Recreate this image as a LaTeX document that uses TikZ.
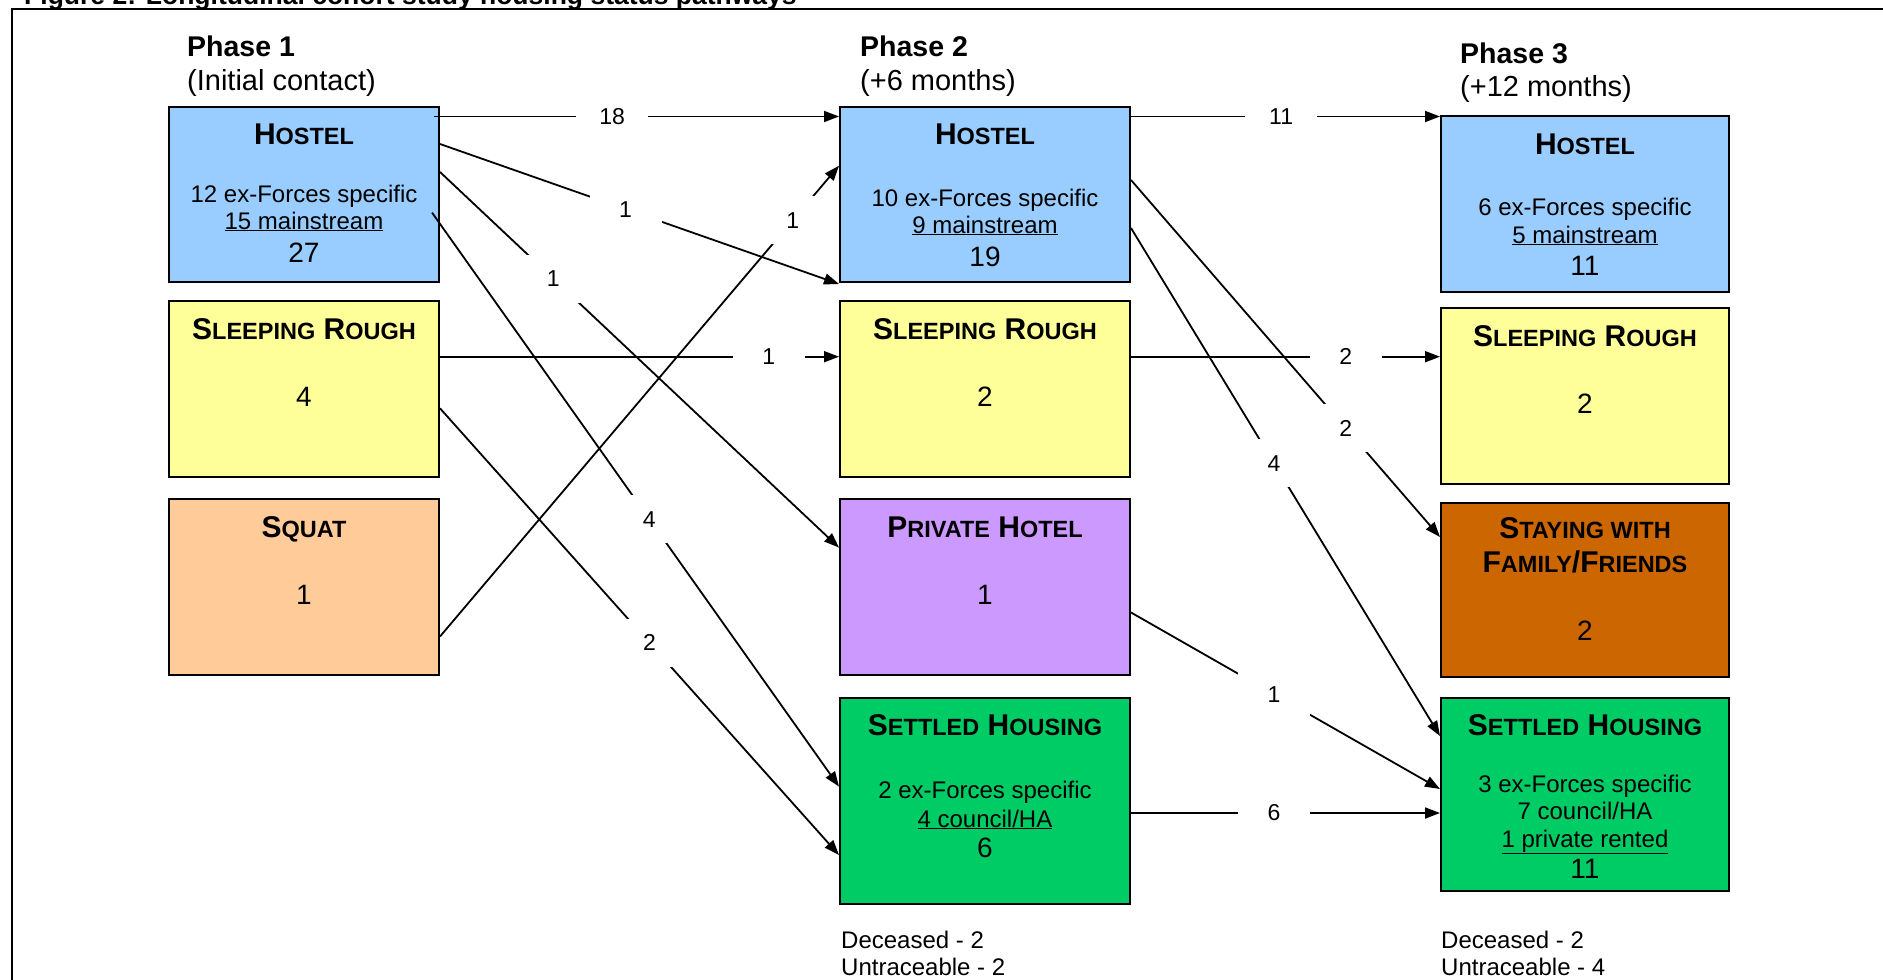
\documentclass[tikz,border=0pt]{standalone}
\usepackage{fontspec}
\setmainfont{Liberation Sans}
\usetikzlibrary{arrows.meta,calc}
\definecolor{cblue}{HTML}{99CCFF}
\definecolor{cyellow}{HTML}{FFFF99}
\definecolor{cpeach}{HTML}{FFCC99}
\definecolor{cpurple}{HTML}{CC99FF}
\definecolor{cgreen}{HTML}{00CC66}
\definecolor{corange}{HTML}{CC6600}
\newcommand\sm[1]{{\fontsize{23.5}{25}\selectfont #1}}
\tikzset{
  box/.style={draw=black, line width=2pt, anchor=north west, inner sep=0pt},
  ttl/.style={anchor=base, inner sep=0pt, font=\fontsize{30}{31}\selectfont\bfseries},
  bod/.style={anchor=base, inner sep=0pt, font=\fontsize{24}{25}\selectfont},
  num/.style={anchor=base, inner sep=0pt, font=\fontsize{28}{29}\selectfont},
  phase/.style={anchor=base west, inner sep=0pt, font=\fontsize{28.5}{30}\selectfont\bfseries},
  phsub/.style={anchor=base west, inner sep=0pt, font=\fontsize{29}{30}\selectfont},
  note/.style={anchor=base west, inner sep=0pt, font=\fontsize{24}{25}\selectfont},
  lbl/.style={fill=white, inner sep=0pt, minimum width=72pt, minimum height=48pt, font=\fontsize{23}{24}\selectfont},
  arr/.style={line width=1.8pt, -{Triangle[length=15pt,width=11pt]}},
}
\begin{document}
\begin{tikzpicture}[x=1pt,y=-1pt]
\useasboundingbox (0,0) rectangle (1883,980);
% frame and cut title
\draw[line width=2.2pt] (12,1000) -- (12,9) -- (1900,9);
\node[anchor=base west, inner sep=0pt, font=\fontsize{26.5}{28}\selectfont\bfseries] (title) at (24,4) {Figure 2: Longitudinal cohort study housing status pathways};
% phase headings
\node[phase] (ph1) at (187,56) {Phase 1};
\node[phsub] (ph1s) at (187,90) {(Initial contact)};
\node[phase] (ph2) at (860,56) {Phase 2};
\node[phsub] (ph2s) at (860,90) {(+6 months)};
\node[phase] (ph3) at (1460,63) {Phase 3};
\node[phsub] (ph3s) at (1460,96) {(+12 months)};
% phase 1 boxes
\node[box, fill=cblue, minimum width=270pt, minimum height=175pt] (p1h) at (168,106) {};
\node[box, fill=cyellow, minimum width=270pt, minimum height=176pt] (p1sr) at (168,300) {};
\node[box, fill=cpeach, minimum width=270pt, minimum height=176pt] (p1sq) at (168,498) {};
% phase 2 boxes
\node[box, fill=cblue, minimum width=290pt, minimum height=175pt] (p2h) at (839,106) {};
\node[box, fill=cyellow, minimum width=290pt, minimum height=176pt] (p2sr) at (839,300) {};
\node[box, fill=cpurple, minimum width=290pt, minimum height=176pt] (p2ph) at (839,498) {};
\node[box, fill=cgreen, minimum width=290pt, minimum height=206pt] (p2s) at (839,697) {};
% phase 3 boxes
\node[box, fill=cblue, minimum width=288pt, minimum height=176pt] (p3h) at (1440,115) {};
\node[box, fill=cyellow, minimum width=288pt, minimum height=176pt] (p3sr) at (1440,307) {};
\node[box, fill=corange, minimum width=288pt, minimum height=174pt] (p3st) at (1440,502) {};
\node[box, fill=cgreen, minimum width=288pt, minimum height=193pt] (p3s) at (1440,697) {};
% phase 1 texts
\node[ttl] (p1h-t) at ($(p1h.north)+(0,38)$) {H\sm{OSTEL}};
\node[bod] (p1h-a) at ($(p1h.north)+(0,96)$) {12 ex-Forces specific};
\node[bod] (p1h-b) at ($(p1h.north)+(0,123)$) {\underline{15 mainstream}};
\node[num] (p1h-n) at ($(p1h.north)+(0,156)$) {27};
\node[ttl] (p1sr-t) at ($(p1sr.north)+(0,39)$) {S\sm{LEEPING} R\sm{OUGH}};
\node[num] (p1sr-n) at ($(p1sr.north)+(0,106)$) {4};
\node[ttl] (p1sq-t) at ($(p1sq.north)+(0,39)$) {S\sm{QUAT}};
\node[num] (p1sq-n) at ($(p1sq.north)+(0,106)$) {1};
% phase 2 texts
\node[ttl] (p2h-t) at ($(p2h.north)+(0,38)$) {H\sm{OSTEL}};
\node[bod] (p2h-a) at ($(p2h.north)+(0,100)$) {10 ex-Forces specific};
\node[bod] (p2h-b) at ($(p2h.north)+(0,127)$) {\underline{9 mainstream}};
\node[num] (p2h-n) at ($(p2h.north)+(0,160)$) {19};
\node[ttl] (p2sr-t) at ($(p2sr.north)+(0,39)$) {S\sm{LEEPING} R\sm{OUGH}};
\node[num] (p2sr-n) at ($(p2sr.north)+(0,106)$) {2};
\node[ttl] (p2ph-t) at ($(p2ph.north)+(0,39)$) {P\sm{RIVATE} H\sm{OTEL}};
\node[num] (p2ph-n) at ($(p2ph.north)+(0,106)$) {1};
\node[ttl] (p2s-t) at ($(p2s.north)+(0,38)$) {S\sm{ETTLED} H\sm{OUSING}};
\node[bod] (p2s-a) at ($(p2s.north)+(0,101)$) {2 ex-Forces specific};
\node[bod] (p2s-b) at ($(p2s.north)+(0,130)$) {\underline{4 council/HA}};
\node[num] (p2s-n) at ($(p2s.north)+(0,160)$) {6};
% phase 3 texts
\node[ttl] (p3h-t) at ($(p3h.north)+(0,39)$) {H\sm{OSTEL}};
\node[bod] (p3h-a) at ($(p3h.north)+(0,100)$) {6 ex-Forces specific};
\node[bod] (p3h-b) at ($(p3h.north)+(0,128)$) {\underline{5 mainstream}};
\node[num] (p3h-n) at ($(p3h.north)+(0,160)$) {11};
\node[ttl] (p3sr-t) at ($(p3sr.north)+(0,39)$) {S\sm{LEEPING} R\sm{OUGH}};
\node[num] (p3sr-n) at ($(p3sr.north)+(0,106)$) {2};
\node[ttl] (p3st-t) at ($(p3st.north)+(0,36)$) {S\sm{TAYING WITH}};
\node[ttl] (p3st-u) at ($(p3st.north)+(0,70)$) {F\sm{AMILY}/F\sm{RIENDS}};
\node[num] (p3st-n) at ($(p3st.north)+(0,138)$) {2};
\node[ttl] (p3s-t) at ($(p3s.north)+(0,38)$) {S\sm{ETTLED} H\sm{OUSING}};
\node[bod] (p3s-a) at ($(p3s.north)+(0,95)$) {3 ex-Forces specific};
\node[bod] (p3s-b) at ($(p3s.north)+(0,122)$) {7 council/HA};
\node[bod] (p3s-c) at ($(p3s.north)+(0,150)$) {\underline{1 private rented}};
\node[num] (p3s-n) at ($(p3s.north)+(0,181)$) {11};
% notes
\node[note] (n2a) at (841,948) {Deceased - 2};
\node[note] (n2b) at (841,975) {Untraceable - 2};
\node[note] (n3a) at (1441,948) {Deceased - 2};
\node[note] (n3b) at (1441,975) {Untraceable - 4};
% connectors phase 1 -> phase 2
\draw[arr] ($(p1h.north east)+(-6,10.5)$) -- node[lbl, pos=0.44] (l1) {18} ($(p2h.north west)+(0,10.5)$);
\draw[arr] ($(p1h.north east)+(0,38)$) -- node[lbl, pos=0.465] (l2) {1} ($(p2sr.north west)+(0,-16)$);
\draw[arr] ($(p1h.north east)+(0,66)$) -- node[lbl, pos=0.284] (l3) {1} ($(p2ph.north west)+(0,49.6)$);
\draw[arr] ($(p1h.north east)+(-8,106.6)$) -- node[lbl, pos=0.534] (l4) {4} ($(p2s.north west)+(0,89.6)$);
\draw[arr] ($(p1sr.north east)+(0,56.7)$) -- node[lbl, pos=0.824] (l5) {1} ($(p2sr.north west)+(0,56.7)$);
\draw[arr] ($(p1sr.north east)+(0,108.3)$) -- node[lbl, pos=0.525] (l6) {2} ($(p2s.north west)+(0,158)$);
\draw[arr] ($(p1sq.north east)+(0,138.5)$) -- node[lbl, pos=0.884] (l7) {1} ($(p2h.north west)+(0,59.7)$);
% connectors phase 2 -> phase 3
\draw[arr] ($(p2h.north east)+(0,10.5)$) -- node[lbl, pos=0.486] (l8) {11} ($(p3h.north west)+(0,1.5)$);
\draw[arr] ($(p2sr.north east)+(0,56.7)$) -- node[lbl, pos=0.695] (l9) {2} ($(p3sr.north west)+(0,49.7)$);
\draw[arr] ($(p2h.north east)+(0,74)$) -- node[lbl, pos=0.695] (l10) {2} ($(p3st.north west)+(0,35)$);
\draw[arr] ($(p2h.north east)+(0,122)$) -- node[lbl, pos=0.463] (l11) {4} ($(p3s.north west)+(0,39)$);
\draw[arr] ($(p2ph.north east)+(0,114.5)$) -- node[lbl, pos=0.463] (l12) {1} ($(p3s.north west)+(0,92)$);
\draw[arr] ($(p2s.north east)+(0,116)$) -- node[lbl, pos=0.463] (l13) {6} ($(p3s.north west)+(0,116)$);
\end{tikzpicture}
\end{document}
